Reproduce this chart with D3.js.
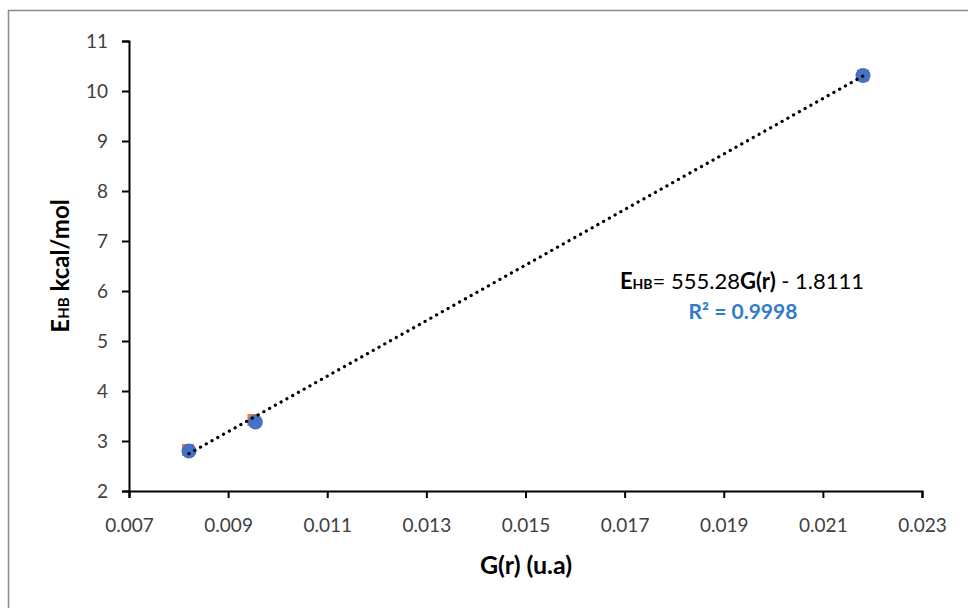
<!DOCTYPE html>
<html><head><meta charset="utf-8">
<script src="https://cdn.jsdelivr.net/npm/d3@7"></script>
<style>body{margin:0;background:#fff;} text{font-family:Lato, "Open Sans", sans-serif;}</style>
</head><body>
<svg id="c" width="968" height="608"></svg>
<script>
const xTicks = [0.007,0.009,0.011,0.013,0.015,0.017,0.019,0.021,0.023];
const yTicks = [2,3,4,5,6,7,8,9,10,11];
const gBlue = [0.00821, 0.00955, 0.02181];
const eBlue = [2.8, 3.38, 10.31];
const gOrange = [0.00819, 0.00951, 0.02181];
const eOrange = [2.82, 3.42, 10.31];
const slope = 555.28, intercept = -1.8111;

const svg = d3.select("#c");
svg.append("rect").attr("x",8.5).attr("y",10.5).attr("width",980).attr("height",620)
  .attr("fill","none").attr("stroke","#8c8c8c").attr("stroke-width",1.5);

const x = d3.scaleLinear().domain([0.007,0.023]).range([129,922]);
const y = d3.scaleLinear().domain([2,11]).range([491,41]);

const xa = svg.append("g").attr("transform","translate(0,491)")
  .call(d3.axisBottom(x).tickValues(xTicks).tickFormat(d3.format(".3f")).tickSizeOuter(0).tickSize(7));
const ya = svg.append("g").attr("transform","translate(129,0)")
  .call(d3.axisLeft(y).tickValues(yTicks).tickFormat(d3.format("d")).tickSizeOuter(0).tickSize(7));
[xa,ya].forEach(a=>{
  a.attr("font-size",null).attr("font-family",null);
  a.select(".domain").attr("stroke","#000").attr("stroke-width",2);
  a.selectAll(".tick line").attr("stroke","#000").attr("stroke-width",2);
  a.selectAll(".tick text").attr("fill","#404040").style("font-size","19px").style("font-family","Lato, sans-serif");
});
xa.selectAll(".tick text").attr("y",28);
ya.selectAll(".tick text").attr("x",-21);

// orange squares
svg.selectAll("rect.o").data(d3.range(gOrange.length)).enter().append("rect")
  .attr("x",i=>x(gOrange[i])-6).attr("y",i=>y(eOrange[i])-6).attr("width",12).attr("height",12)
  .attr("fill","#ED7D31");
// blue circles
svg.selectAll("circle.b").data(d3.range(gBlue.length)).enter().append("circle")
  .attr("cx",i=>x(gBlue[i])).attr("cy",i=>y(eBlue[i])).attr("r",7.5).attr("fill","#4472C4");

// trendline
const x0 = d3.min(gBlue), x1 = d3.max(gBlue);
svg.append("line").attr("x1",x(x0)).attr("y1",y(slope*x0+intercept))
  .attr("x2",x(x1)).attr("y2",y(slope*x1+intercept))
  .attr("stroke","#000").attr("stroke-width",3.2).attr("stroke-linecap","round")
  .attr("stroke-dasharray","0.1 6.5");

// equation
const eq = svg.append("text").attr("x",742).attr("y",289).attr("text-anchor","middle")
  .style("font-size","22px").attr("fill","#000");
eq.append("tspan").attr("font-weight","bold").text("E");
eq.append("tspan").attr("font-weight","bold").style("font-size","14px").text("HB");
eq.append("tspan").text("= 555.28");
eq.append("tspan").attr("font-weight","bold").text("G(r)");
eq.append("tspan").text(" - 1.8111");
svg.append("text").attr("x",743).attr("y",319).attr("text-anchor","middle")
  .style("font-size","21px").attr("font-weight","bold").attr("fill","#2F7DCB").text("R² = 0.9998");

// axis titles
svg.append("text").attr("x",526).attr("y",574).attr("text-anchor","middle")
  .style("font-size","25px").attr("font-weight","bold").attr("fill","#000").text("G(r) (u.a)");
const yt = svg.append("text").attr("transform","translate(69,266) rotate(-90)").attr("text-anchor","middle")
  .style("font-size","24px").attr("font-weight","bold").attr("fill","#000");
yt.append("tspan").text("E");
yt.append("tspan").style("font-size","15px").text("HB");
yt.append("tspan").text(" kcal/mol");
</script>
</body></html>
